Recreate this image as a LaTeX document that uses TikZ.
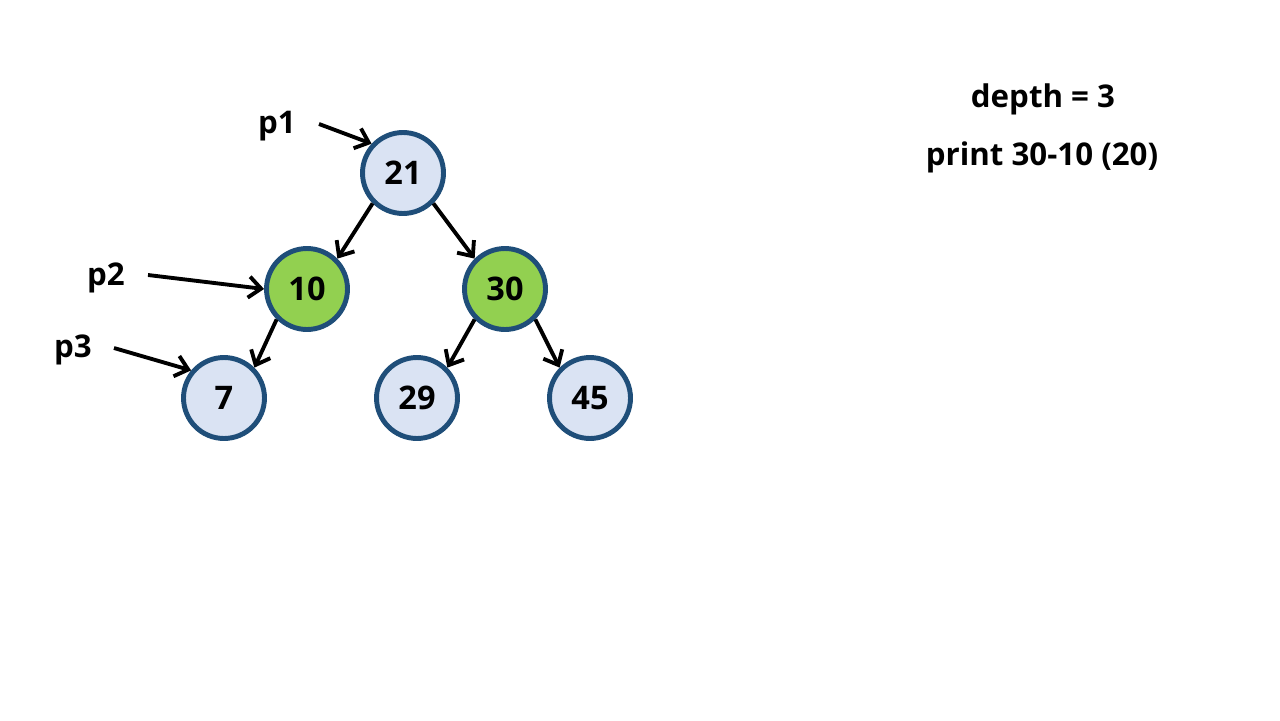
\documentclass[tikz,border=0pt]{standalone}
\usepackage{fontspec}
\setmainfont{Open Sans}
\usepackage{tikz}
\usetikzlibrary{arrows.meta}

\definecolor{nodefill}{HTML}{DAE3F3}
\definecolor{nodeline}{HTML}{1F4E79}
\definecolor{visited}{HTML}{92D050}

\begin{document}
\begin{tikzpicture}[
  x=0.02cm, y=-0.02cm,
  treenode/.style={circle, draw=nodeline, fill=nodefill, line width=2.8pt,
    minimum size=1.62cm, inner sep=0pt, font=\fontsize{18.5}{22}\selectfont\bfseries},
  done/.style={treenode, fill=visited},
  label/.style={font=\fontsize{17.8}{21}\selectfont\bfseries},
  edge/.style={->, draw, line width=2.2pt},
  >={Straight Barb[length=7pt,width=12pt]}]
    \useasboundingbox (0,0) rectangle (1280,720);
    % the tree
    \node[treenode] (n21) at (403,173) {21};
    \node[done] (n10) at (307,289) {10};
    \node[done] (n30) at (505,289) {30};
    \node[treenode] (n7) at (224,398) {7};
    \node[treenode] (n29) at (417,398) {29};
    \node[treenode] (n45) at (590,398) {45};
    \draw[edge] (n21.225) -- (n10.45);
    \draw[edge] (n21.-45) -- (n30.135);
    \draw[edge] (n10.225) -- (n7.45);
    \draw[edge] (n30.225) -- (n29.45);
    \draw[edge] (n30.-45) -- (n45.135);
    % pointers
    \node[label] (p1) at (277,126) {p1};
    \node[label] (p2) at (106,278) {p2};
    \node[label] (p3) at (73,350) {p3};
    \coordinate (p1s) at (319,124);
    \coordinate (p2s) at (148,275);
    \coordinate (p3s) at (114,348);
    \draw[edge] (p1s) -- (n21.137);
    \draw[edge] (p2s) -- (n10.180);
    \draw[edge] (p3s) -- (n7.140);
    \node[label] (depth) at (1043,99) {depth = 3};
    \node[label] (result) at (1042,157) {print 30-10 (20)};
\end{tikzpicture}
\end{document}
